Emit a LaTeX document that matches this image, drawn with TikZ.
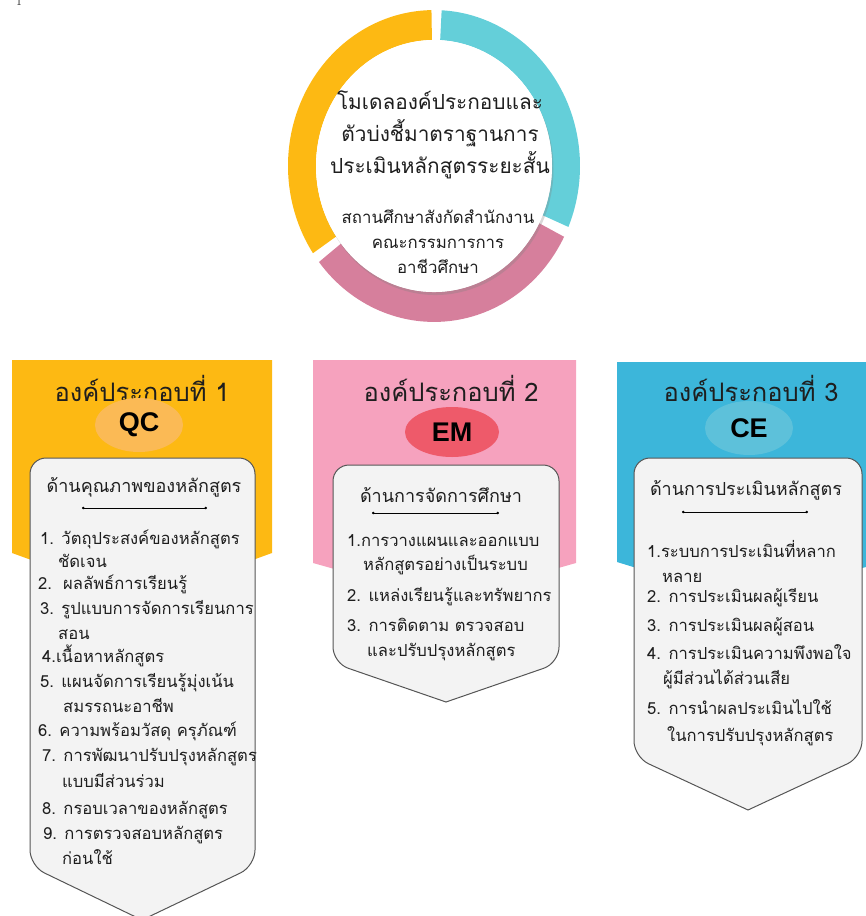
\documentclass[tikz,border=0pt]{standalone}
\usepackage{fontspec}
\usepackage{tikz}
\usetikzlibrary{shapes,shadows,arrows.meta}
\newfontfamily\thaifont[Script=Thai]{Loma}
\newfontfamily\latinfont{Liberation Sans}
\definecolor{ringyellow}{RGB}{253,185,19}
\definecolor{ringcyan}{RGB}{100,207,217}
\definecolor{ringpink}{RGB}{214,127,156}
\definecolor{qcband}{RGB}{253,185,19}
\definecolor{emband}{RGB}{246,162,190}
\definecolor{ceband}{RGB}{60,182,218}
\definecolor{qctag}{RGB}{251,186,85}
\definecolor{emtag}{RGB}{238,90,106}
\definecolor{cetag}{RGB}{93,193,218}
\definecolor{boxfill}{RGB}{243,243,243}
\definecolor{boxline}{RGB}{85,85,85}
\definecolor{inkgray}{RGB}{30,30,30}

\begin{document}
\begin{tikzpicture}[x=1pt,y=1pt]
		\tikzstyle{every node}+=[inner sep=0pt, text=inkgray, font=\thaifont]
		\tikzstyle{title}=[align=center, font=\thaifont\fontsize{20.8}{32}\selectfont]
		\tikzstyle{subtitle}=[align=center, font=\thaifont\fontsize{16.8}{25}\selectfont]
		\tikzstyle{comp}=[font=\thaifont\fontsize{25.5}{28}\selectfont]
		\tikzstyle{tag}=[ellipse, minimum width=88, minimum height=54, font=\latinfont\bfseries\fontsize{27}{29}\selectfont, text=black]
		\tikzstyle{panel}=[draw=boxline, line width=1pt, fill=boxfill]
		\tikzstyle{head}=[font=\thaifont\fontsize{18}{20}\selectfont]
		\tikzstyle{divider}=[line width=0.7pt, {Circle[length=2.5pt]}-{Circle[length=2.5pt]}]
		\tikzstyle{item}=[anchor=west, text height=12pt, text depth=4pt, font=\thaifont\fontsize{16.6}{18}\selectfont]
		\useasboundingbox (0,0) rectangle (866,-916);
		\node[anchor=base, font=\rmfamily\fontsize{12}{12}\selectfont] (pagenum) at (19,-5) {1};
		\begin{scope}[shift={(434,-166)}, yscale=1.068]
		\fill[ringyellow] (91:146) arc (91:214:146) -- (214:118) arc (214:91:118) -- cycle;
		\fill[ringpink] (218:146) arc (218:333:146) -- (333:118) arc (333:218:118) -- cycle;
		\fill[ringcyan] (-23:146) arc (-23:87:146) -- (87:118) arc (87:-23:118) -- cycle;
		\fill[white, drop shadow={opacity=0.3, shadow xshift=1.5pt, shadow yshift=-3pt}] (0,0) circle (118);
		\end{scope}
		\node[title] (model) at (440,-135) {โมเดลองค์ประกอบและ\\ตัวบ่งชี้มาตราฐานการ\\ประเมินหลักสูตรระยะสั้น};
		\node[subtitle] (org) at (438,-242) {สถานศึกษาสังกัดสำนักงาน\\คณะกรรมการการ\\อาชีวศึกษา};
		\fill[qcband] (12,-360) -- (272,-360) -- (272,-553) -- (142,-600) -- (12,-553) -- cycle;
		\fill[emband] (313,-360) -- (576,-360) -- (576,-563) -- (445,-600) -- (313,-563) -- cycle;
		\fill[ceband] (617,-362) -- (866,-362) -- (866,-567) -- (741,-600) -- (617,-562) -- cycle;
		\node[comp] (comp1) at (142,-388) {องค์ประกอบที่ 1};
		\node[comp] (comp2) at (451,-388) {องค์ประกอบที่ 2};
		\node[comp] (comp3) at (751,-388) {องค์ประกอบที่ 3};
		\node[tag, fill=qctag] (qc) at (139,-425) {QC};
		\node[tag, fill=emtag, minimum width=94, minimum height=50] (em) at (452,-432) {EM};
		\node[tag, fill=cetag] (ce) at (749,-428) {CE};
		\draw[panel] (142,-920) [rounded corners=16] -- (30,-866) -- (30,-458) -- (255,-458) -- (255,-866) [sharp corners] -- cycle;
		\draw[panel] (446,-702) [rounded corners=16] -- (333,-663) -- (333,-465) -- (559,-465) -- (559,-663) [sharp corners] -- cycle;
		\draw[panel] (748,-810) [rounded corners=16] -- (634,-757) -- (634,-458) -- (862,-458) -- (862,-757) [sharp corners] -- cycle;
		\node[head] (qchead) at (144,-487) {ด้านคุณภาพของหลักสูตร};
		\node[head] (emhead) at (441,-495) {ด้านการจัดการศึกษา};
		\node[head] (cehead) at (746,-490) {ด้านการประเมินหลักสูตร};
		\coordinate (qcdl) at (82,-508);
		\coordinate (qcdr) at (207,-508);
		\coordinate (emdl) at (372,-513);
		\coordinate (emdr) at (499,-513);
		\coordinate (cedl) at (682,-512);
		\coordinate (cedr) at (808,-512);
		\draw[divider] (qcdl) -- (qcdr);
		\draw[divider] (emdl) -- (emdr);
		\draw[divider] (cedl) -- (cedr);
		\node[item] (qc1) at (40,-540) {1. วัตถุประสงค์ของหลักสูตร};
		\node[item] (qc1b) at (58,-563) {ชัดเจน};
		\node[item] (qc2) at (38,-585) {2.\ \ ผลลัพธ์การเรียนรู้};
		\node[item] (qc3) at (40,-610) {3. รูปแบบการจัดการเรียนการ};
		\node[item] (qc3b) at (58,-635) {สอน};
		\node[item] (qc4) at (42,-658) {4.เนื้อหาหลักสูตร};
		\node[item] (qc5) at (40,-683) {5. แผนจัดการเรียนรู้มุ่งเน้น};
		\node[item] (qc5b) at (63,-708) {สมรรถนะอาชีพ};
		\node[item] (qc6) at (38,-732) {6. ความพร้อมวัสดุ ครุภัณฑ์};
		\node[item] (qc7) at (42,-757) {7. การพัฒนาปรับปรุงหลักสูตร};
		\node[item] (qc7b) at (62,-783) {แบบมีส่วนร่วม};
		\node[item] (qc8) at (42,-810) {8. กรอบเวลาของหลักสูตร};
		\node[item] (qc9) at (43,-835) {9. การตรวจสอบหลักสูตร};
		\node[item] (qc9b) at (62,-860) {ก่อนใช้};
		\node[item] (em1) at (347,-542) {1.การวางแผนและออกแบบ};
		\node[item] (em1b) at (363,-566) {หลักสูตรอย่างเป็นระบบ};
		\node[item] (em2) at (347,-597) {2. แหล่งเรียนรู้และทรัพยากร};
		\node[item] (em3) at (347,-627) {3. การติดตาม ตรวจสอบ};
		\node[item] (em3b) at (367,-652) {และปรับปรุงหลักสูตร};
		\node[item] (ce1) at (647,-553) {1.ระบบการประเมินที่หลาก};
		\node[item] (ce1b) at (662,-578) {หลาย};
		\node[item] (ce2) at (647,-598) {2. การประเมินผลผู้เรียน};
		\node[item] (ce3) at (647,-627) {3. การประเมินผลผู้สอน};
		\node[item] (ce4) at (647,-655) {4. การประเมินความพึงพอใจ};
		\node[item] (ce4b) at (663,-680) {ผู้มีส่วนได้ส่วนเสีย};
		\node[item] (ce5) at (647,-710) {5. การนำผลประเมินไปใช้};
		\node[item] (ce5b) at (667,-737) {ในการปรับปรุงหลักสูตร};
		\end{tikzpicture}
\end{document}
